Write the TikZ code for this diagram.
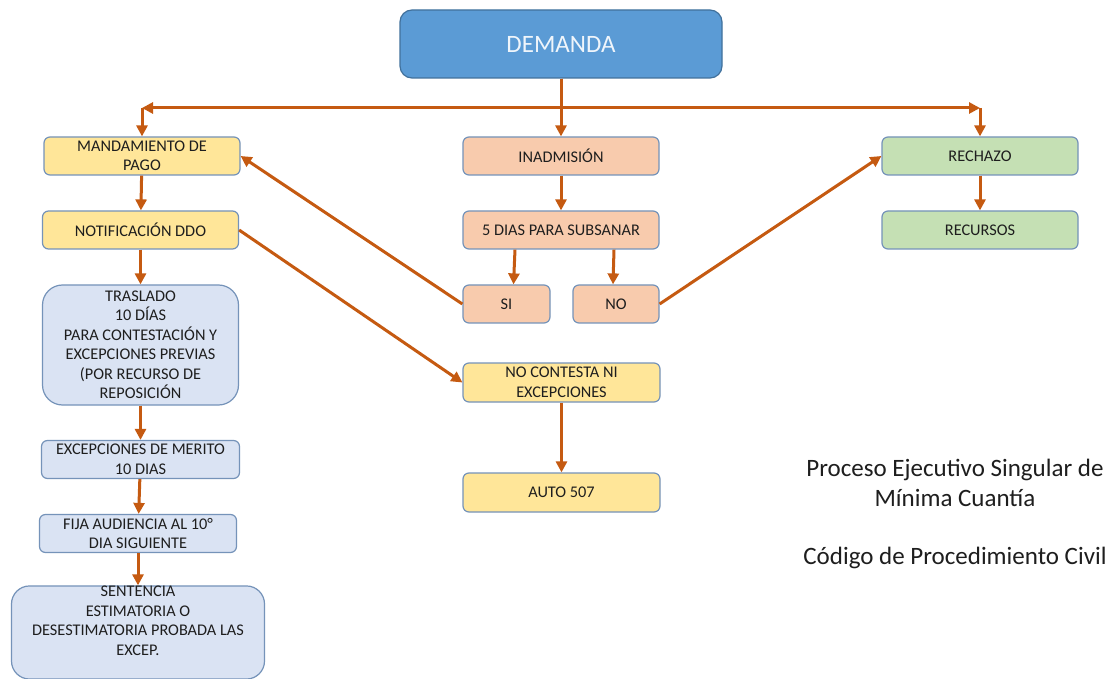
\documentclass[tikz,border=0pt]{standalone}
\usepackage{fontspec}
\setmainfont{Carlito}
\usetikzlibrary{arrows.meta,positioning}
\definecolor{flecha}{HTML}{C55A11}
\definecolor{borde}{HTML}{7593B9}
\definecolor{azul}{HTML}{5B9BD5}
\definecolor{azulborde}{HTML}{41719C}
\definecolor{amarillo}{HTML}{FFE699}
\definecolor{salmon}{HTML}{F8CBAD}
\definecolor{verde}{HTML}{C5E0B4}
\definecolor{celeste}{HTML}{DAE3F3}
\definecolor{texto}{HTML}{1E1E1E}
\begin{document}
\begin{tikzpicture}[x=1pt,y=-1pt]
		\tikzstyle{block} =[draw=borde, line width=1.2pt, minimum width=196pt, minimum height=38pt, inner sep=0pt, align=center, rounded corners=6pt, text=texto, font=\fontsize{16.3}{19.5}\selectfont];
		\tikzstyle{flow} =[-{Triangle[length=11pt,width=11pt]}, draw=flecha, line width=3pt];
		\fill[white] (0,0) rectangle (1120,679);
		\useasboundingbox (0,0) rectangle (1120,679);
		
		\node[block, draw=azulborde, fill=azul, minimum width=322pt, minimum height=68pt, rounded corners=12pt, text=white!90!azul, font=\fontsize{25}{30}\selectfont] (demanda) at (561,44) {DEMANDA};
		
		% columna izquierda
		\node[block, fill=amarillo] (mandamiento) at (142,156) {MANDAMIENTO DE\\PAGO};
		\node[block, fill=amarillo, below of = mandamiento, node distance=74pt, xshift=-1.5pt] (notificacion) {NOTIFICACIÓN DDO};
		\node[block, fill=celeste, minimum height=120pt, rounded corners=20pt, below of = notificacion, node distance=115pt] (traslado) {TRASLADO\\10 DÍAS\\PARA CONTESTACIÓN Y\\EXCEPCIONES PREVIAS\\(POR RECURSO DE\\REPOSICIÓN};
		\node[block, fill=celeste, minimum width=198pt, below of = traslado, node distance=114.5pt] (merito) {EXCEPCIONES DE MERITO\\10 DIAS};
		\node[block, fill=celeste, minimum width=197pt, below of = merito, node distance=74pt, xshift=-2.5pt] (audiencia) {FIJA AUDIENCIA AL 10°\\DIA SIGUIENTE};
		\node[block, fill=celeste, minimum width=253pt, minimum height=89pt, rounded corners=18pt, text depth=24pt, below of = audiencia, node distance=99pt] (sentencia) {SENTENCIA\\ESTIMATORIA O\\DESESTIMATORIA PROBADA LAS\\EXCEP.};
		
		% columna central
		\node[block, fill=salmon] (inadmision) at (561,156) {INADMISIÓN};
		\node[block, fill=salmon, below of = inadmision, node distance=74pt] (subsanar) {5 DIAS PARA SUBSANAR};
		\node[block, fill=salmon, minimum width=87pt] (si) at (506.5,304) {SI};
		\node[block, fill=salmon, minimum width=86pt] (no) at (616,304) {NO};
		\node[block, fill=amarillo, minimum width=197pt, minimum height=39pt] (nocontesta) at (561.5,382.5) {NO CONTESTA NI\\EXCEPCIONES};
		\node[block, fill=amarillo, minimum width=197pt, minimum height=39pt, below of = nocontesta, node distance=110pt] (auto) {AUTO 507};
		
		% columna derecha
		\node[block, fill=verde] (rechazo) at (980,156) {RECHAZO};
		\node[block, fill=verde, below of = rechazo, node distance=74pt] (recursos) {RECURSOS};
		
		\node[align=center, text=texto, font=\fontsize{25}{30}\selectfont] (proceso) at (955,483) {Proceso Ejecutivo Singular de\\Mínima Cuantía};
		\node[text=texto, font=\fontsize{25}{30}\selectfont, below of = proceso, node distance=75pt] (codigo) {Código de Procedimiento Civil};
		
		\coordinate (izq) at (142,108);
		\coordinate (der) at (980,108);
		
		\draw[flow] (demanda) -- (inadmision);
		\draw[flow] (demanda.south) |- (izq);
		\draw[flow] (demanda.south) |- (der);
		\draw[flow] (izq) -- (mandamiento);
		\draw[flow] (der) -- (rechazo);
		
		\draw[flow] (mandamiento) -- (notificacion);
		\draw[flow] (notificacion) -- (traslado);
		\draw[flow] (traslado) -- (merito);
		\draw[flow] (merito) -- (audiencia);
		\draw[flow] (audiencia) -- (sentencia);
		
		\draw[flow] (inadmision) -- (subsanar);
		\draw[flow] ([xshift=-46pt]subsanar.south) -- ([xshift=7pt]si.north);
		\draw[flow] ([xshift=53pt]subsanar.south) -- ([xshift=-3pt]no.north);
		\draw[flow] (si.west) -- (mandamiento.east);
		\draw[flow] (no.east) -- (rechazo.west);
		\draw[flow] (notificacion.east) -- (nocontesta.west);
		\draw[flow] (nocontesta) -- (auto);
		
		\draw[flow] (rechazo) -- (recursos);
	\end{tikzpicture}
\end{document}
